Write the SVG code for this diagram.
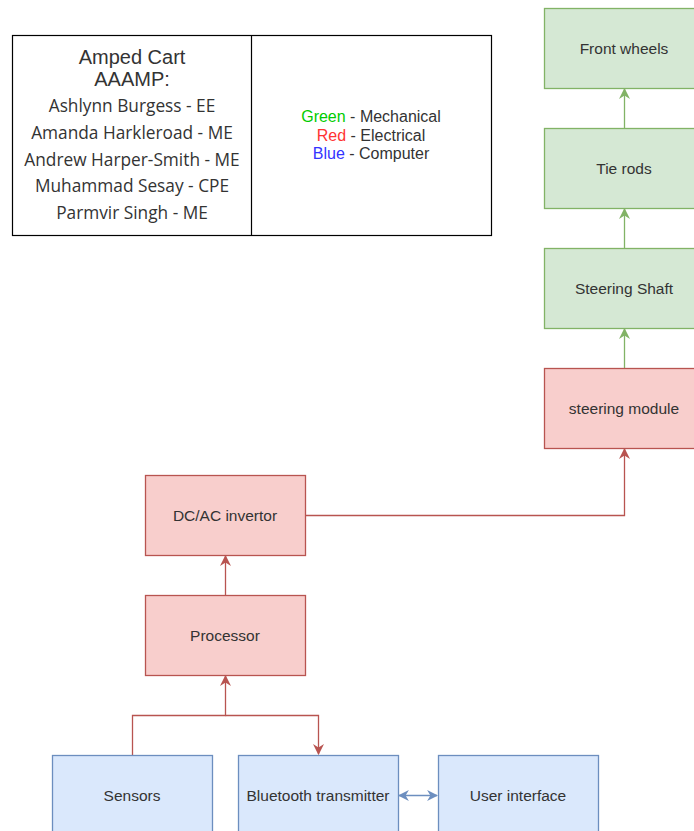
<svg xmlns="http://www.w3.org/2000/svg" width="694" height="831" viewBox="0 0 694 831">
<style>
.g rect{fill:#d5e8d4;stroke:#82b366;stroke-width:1.3}
.r rect{fill:#f8cecc;stroke:#b85450;stroke-width:1.3}
.b rect{fill:#dae8fc;stroke:#6c8ebf;stroke-width:1.3}
.lbl{font-family:"Liberation Sans",Arial,sans-serif;font-size:15.5px;fill:#333;text-anchor:middle;dominant-baseline:central}
.tt{font-family:"Liberation Sans",Arial,sans-serif;font-size:20px;fill:#333;text-anchor:middle}
.nm{font-family:"Open Sans","Liberation Sans",sans-serif;font-size:17.3px;fill:#333;text-anchor:middle}
.lg{font-family:"Liberation Sans",Arial,sans-serif;font-size:16px;fill:#333;text-anchor:middle}
.cg{fill:none;stroke:#82b366;stroke-width:1.3}
.cr{fill:none;stroke:#b85450;stroke-width:1.3}
.cb{fill:none;stroke:#6c8ebf;stroke-width:1.3}
</style>
<defs>
<marker id="ag" viewBox="0 0 10 10" refX="9" refY="5" markerWidth="11" markerHeight="11" markerUnits="userSpaceOnUse" orient="auto-start-reverse"><path d="M0,0 L10,5 L0,10 L3,5 Z" fill="#82b366"/></marker>
<marker id="ar" viewBox="0 0 10 10" refX="9" refY="5" markerWidth="11" markerHeight="11" markerUnits="userSpaceOnUse" orient="auto-start-reverse"><path d="M0,0 L10,5 L0,10 L3,5 Z" fill="#b85450"/></marker>
<marker id="ab" viewBox="0 0 10 10" refX="9" refY="5" markerWidth="11" markerHeight="11" markerUnits="userSpaceOnUse" orient="auto-start-reverse"><path d="M0,0 L10,5 L0,10 L3,5 Z" fill="#6c8ebf"/></marker>
</defs>
<rect width="694" height="831" fill="#fff"/>
<g id="legend-table">
<rect x="12.5" y="35.5" width="479" height="200" fill="#fff" stroke="#000" stroke-width="1.2"/>
<line x1="251.5" y1="35.5" x2="251.5" y2="235.5" stroke="#000" stroke-width="1.2"/>
<text class="tt" x="132" y="64">Amped Cart</text>
<text class="tt" x="132" y="86">AAAMP:</text>
<text class="nm" x="132" y="112">Ashlynn Burgess - EE</text>
<text class="nm" x="132" y="139">Amanda Harkleroad - ME</text>
<text class="nm" x="132" y="166">Andrew Harper-Smith - ME</text>
<text class="nm" x="132" y="192">Muhammad Sesay - CPE</text>
<text class="nm" x="132" y="219">Parmvir Singh - ME</text>
<text class="lg" x="371" y="122"><tspan fill="#00cc00">Green</tspan> - Mechanical</text>
<text class="lg" x="371" y="141"><tspan fill="#ff3333">Red</tspan> - Electrical</text>
<text class="lg" x="371" y="159"><tspan fill="#3333ff">Blue</tspan> - Computer</text>
</g>
<g id="connectors">
<path class="cg" d="M624.5,128 V89" marker-end="url(#ag)"/>
<path class="cg" d="M624.5,248 V209" marker-end="url(#ag)"/>
<path class="cg" d="M624.5,368 V329" marker-end="url(#ag)"/>
<path class="cr" d="M305,515.5 H624.5 V449" marker-end="url(#ar)"/>
<path class="cr" d="M225.5,595 V556" marker-end="url(#ar)"/>
<path class="cr" d="M132.5,755 V715.5 H225.5 V676" marker-end="url(#ar)"/>
<path class="cr" d="M225.5,715.5 H318.5 V754" marker-end="url(#ar)"/>
<path class="cb" d="M399,795.5 H437" marker-start="url(#ab)" marker-end="url(#ab)"/>
</g>
<g id="front-wheels" class="g"><rect x="544.5" y="8.5" width="160" height="80"/><text class="lbl" x="624" y="48">Front wheels</text></g>
<g id="tie-rods" class="g"><rect x="544.5" y="128.5" width="160" height="80"/><text class="lbl" x="624" y="168">Tie rods</text></g>
<g id="steering-shaft" class="g"><rect x="544.5" y="248.5" width="160" height="80"/><text class="lbl" x="624" y="288">Steering Shaft</text></g>
<g id="steering-module" class="r"><rect x="544.5" y="368.5" width="160" height="80"/><text class="lbl" x="624" y="408">steering module</text></g>
<g id="dcac-invertor" class="r"><rect x="145.5" y="475.5" width="160" height="80"/><text class="lbl" x="225" y="515">DC/AC invertor</text></g>
<g id="processor" class="r"><rect x="145.5" y="595.5" width="160" height="80"/><text class="lbl" x="225" y="635">Processor</text></g>
<g id="sensors" class="b"><rect x="52.5" y="755.5" width="160" height="80"/><text class="lbl" x="132" y="795">Sensors</text></g>
<g id="bluetooth" class="b"><rect x="238.5" y="755.5" width="160" height="80"/><text class="lbl" x="318" y="795">Bluetooth transmitter</text></g>
<g id="user-interface" class="b"><rect x="438.5" y="755.5" width="160" height="80"/><text class="lbl" x="518" y="795">User interface</text></g>
</svg>
